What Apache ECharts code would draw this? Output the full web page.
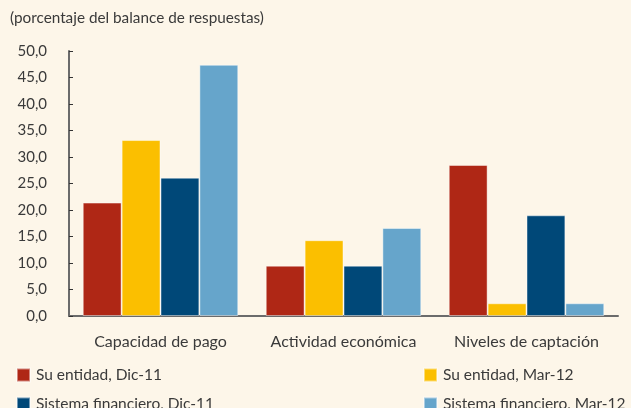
<!DOCTYPE html>
<html><head><meta charset="utf-8">
<script src="https://cdn.jsdelivr.net/npm/echarts@6/dist/echarts.min.js"></script>
<style>html,body{margin:0;padding:0;background:#FDF6E9;}#c{width:631px;height:408px;}</style>
</head><body><div id="c"></div>
<script>
const categories = ['Capacidad de pago', 'Actividad económica', 'Niveles de captación'];
const suEntidadDic11 = [21.4, 9.5, 28.5];
const suEntidadMar12 = [33.2, 14.3, 2.4];
const sistemaDic11 = [26.1, 9.5, 19.0];
const sistemaMar12 = [47.4, 16.6, 2.4];
const seriesNames = ['Su entidad, Dic-11', 'Su entidad, Mar-12', 'Sistema financiero, Dic-11', 'Sistema financiero, Mar-12'];
const colors = ['#AF2715', '#FBBF00', '#004878', '#66A5CB'];
const font = 'Lato, "Open Sans", sans-serif';
const txt = '#3a3a3a';
const chart = echarts.init(document.getElementById('c'));
const datasets = [suEntidadDic11, suEntidadMar12, sistemaDic11, sistemaMar12];
const legendPos = [[16, 367], [423, 367], [16, 396], [423, 396]];
chart.setOption({
  backgroundColor: '#FDF6E9',
  animation: false,
  title: {text: '(porcentaje del balance de respuestas)', left: 10, top: 11, padding: 0,
    textStyle: {fontFamily: font, fontSize: 15.3, fontWeight: 'normal', color: txt}},
  grid: {left: 69, right: 13, top: 51, bottom: 92},
  legend: seriesNames.map((n, i) => ({
    data: [n], left: legendPos[i][0], top: legendPos[i][1], padding: 0,
    itemWidth: 13, itemHeight: 13, icon: 'rect',
    textStyle: {fontFamily: font, fontSize: 15.5, color: txt, padding: [0, 0, 0, 1]}
  })),
  xAxis: {type: 'category', data: categories,
    axisLine: {lineStyle: {color: '#6b6b6b', width: 2}},
    axisTick: {inside: true, length: 4, lineStyle: {color: '#333'}},
    axisLabel: {fontFamily: font, fontSize: 16, color: txt, margin: 18, interval: 0, hideOverlap: false}},
  yAxis: {type: 'value', min: 0, max: 50, interval: 5,
    splitLine: {show: false},
    axisLine: {show: true, lineStyle: {color: '#6b6b6b', width: 2}},
    axisTick: {show: true, inside: true, length: 4, lineStyle: {color: '#333'}},
    axisLabel: {fontFamily: font, fontSize: 15, color: txt, margin: 22,
      formatter: v => v.toFixed(1).replace('.', ',')}},
  series: datasets.map((d, i) => ({
    name: seriesNames[i], type: 'bar', data: d, barGap: '0%', barCategoryGap: '15%',
    itemStyle: {color: colors[i], borderColor: 'rgba(255,255,255,0.45)', borderWidth: 1}
  }))
});
</script></body></html>
